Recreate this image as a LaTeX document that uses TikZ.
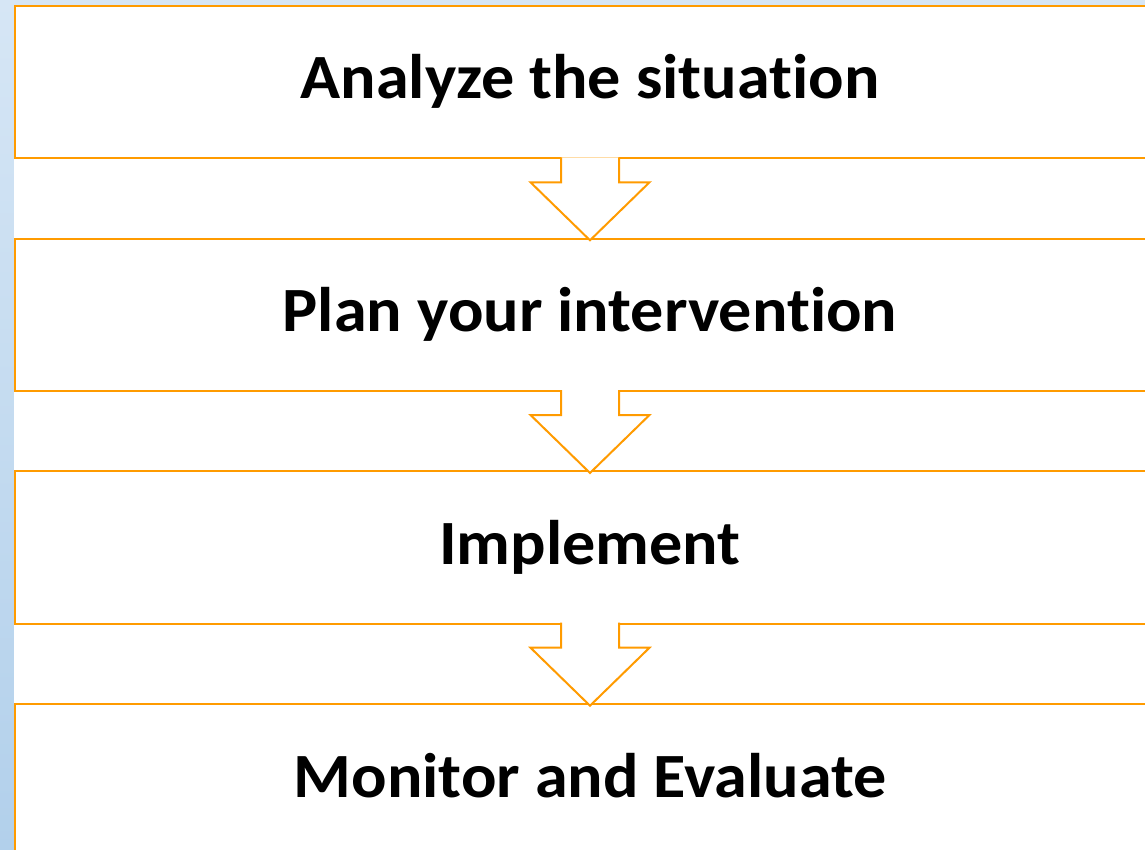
\documentclass[tikz,border=0pt]{standalone}
\usepackage{fontspec}
\setmainfont[Ligatures=NoCommon, FakeStretch=1.05]{Carlito}
\usetikzlibrary{positioning}

\definecolor{stepline}{RGB}{255,155,0}
\definecolor{bgtop}{RGB}{214,230,245}
\definecolor{bgbottom}{RGB}{178,208,235}

\begin{document}
\begin{tikzpicture}[
        x=1pt, y=-1pt, % одна единица = один пиксель, ось y вниз
        node distance=80.4pt,
        stage/.style={draw=stepline, line width=2pt, fill=white, outer sep=0pt, inner sep=0pt,
                minimum width=1151pt, minimum height=152.3pt,
                text height=44pt, text depth=10.3pt,
                font=\fontsize{63}{70}\selectfont\bfseries}, % Стиль блоков
        flow/.style={draw=stepline, line width=2pt, fill=white, line join=miter},
    ]
    \useasboundingbox (0,0) rectangle (1145,850);
    \clip (0,0) rectangle (1145,850);

    % фон слайда
    \shade[top color=bgtop, bottom color=bgbottom] (0,0) rectangle (1145,850);
    \fill[white] (14,5) rectangle (1145,850);

    \node[stage] (analyze) at (590,82.15) {Analyze the situation};
    \node[stage, below=of analyze] (plan) {Plan your intervention};
    \node[stage, below=of plan] (implement) {Implement};
    \node[stage, below=of implement] (monitor) {Monitor and Evaluate};

    % стрелки между блоками
    \foreach \from in {analyze, plan, implement}
        \path[flow] ([xshift=-29pt, yshift=1pt]\from.south) -- ++(0,25) -- ++(-30.5,0)
            -- ++(59.5,58) -- ++(59.5,-58) -- ++(-30.5,0) -- ++(0,-25);
\end{tikzpicture}
\end{document}
